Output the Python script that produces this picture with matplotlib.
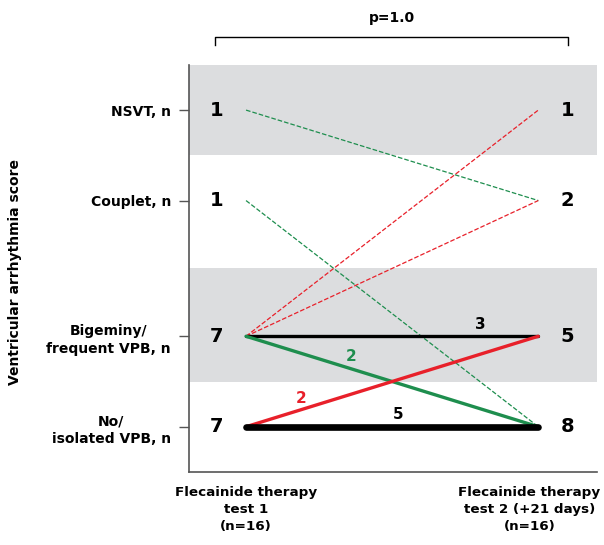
import matplotlib
matplotlib.use('Agg')
import matplotlib.pyplot as plt

plt.rcParams['font.family'] = ['DejaVu Sans']
plt.rcParams['font.weight'] = 'bold'

# categories and their vertical positions (uneven spacing as in the original)
categories = ['No/\nisolated VPB, n', 'Bigeminy/\nfrequent VPB, n', 'Couplet, n', 'NSVT, n']
levels = [1, 2, 3.5, 4.5]
counts_test1 = [7, 7, 1, 1]
counts_test2 = [8, 5, 2, 1]

# transitions: (from level index, to level index, n, colour, style, width)
transitions = [
    (3, 2, 1, '#1e8e4e', '--', 0.9),
    (2, 0, 1, '#1e8e4e', '--', 0.9),
    (1, 3, 1, '#e8202a', '--', 0.9),
    (1, 2, 1, '#e8202a', '--', 0.9),
    (1, 1, 3, 'black', '-', 2.4),
    (1, 0, 2, '#1e8e4e', '-', 2.4),
    (0, 1, 2, '#e8202a', '-', 2.4),
    (0, 0, 5, 'black', '-', 4.8),
]
# label positions for the multi-patient lines
line_labels = {4: (0.80, 2.13), 5: (0.36, 1.78), 6: (0.19, 1.31), 7: (0.52, 1.13)}

bands = [(4.0, 5.0), (1.5, 2.75)]
group_labels = ['Flecainide therapy\ntest 1\n(n=16)',
                'Flecainide therapy\ntest 2 (+21 days)\n(n=16)']
group_x = [0, 0.97]

fig = plt.figure(figsize=(6.04, 5.45), dpi=100)
ax = fig.add_axes([0.313, 0.134, 0.675, 0.747])

for lo, hi in bands:
    ax.axhspan(lo, hi, color='#dcdddf', lw=0, zorder=0)

for i, (a, b, n, col, ls, lw) in enumerate(transitions):
    ax.plot([0, 1], [levels[a], levels[b]], color=col, ls=ls, lw=lw,
            solid_capstyle='round', zorder=2)
    if i in line_labels:
        tx, ty = line_labels[i]
        ax.text(tx, ty, str(n), color=col, fontsize=11, fontweight='bold',
                ha='center', va='center')

for y, c1, c2 in zip(levels, counts_test1, counts_test2):
    ax.text(-0.1, y, str(c1), fontsize=14, fontweight='bold', ha='center', va='center')
    ax.text(1.1, y, str(c2), fontsize=14, fontweight='bold', ha='center', va='center')

ax.set_xlim(-0.195, 1.2)
ax.set_ylim(0.5, 5.0)
ax.set_yticks(levels)
ax.set_yticklabels(categories, fontsize=10, fontweight='bold', multialignment='center',
                   linespacing=1.35)
ax.tick_params(axis='y', length=7, width=1, pad=6, color='#555555')
ax.set_xticks([])
for s in ['top', 'right']:
    ax.spines[s].set_visible(False)
for s in ['left', 'bottom']:
    ax.spines[s].set_color('#555555')
    ax.spines[s].set_linewidth(1.2)

ax.set_ylabel('Ventricular arrhythmia score', fontsize=10, fontweight='bold')
ax.yaxis.set_label_coords(-0.41, 0.49)

for x, lab in zip(group_x, group_labels):
    ax.text(x, 0.35, lab, fontsize=9.7, fontweight='bold', ha='center', va='top',
            linespacing=1.4)

# significance bracket
ax.plot([-0.106, -0.106, 1.1, 1.1], [5.22, 5.31, 5.31, 5.22], color='black',
        lw=1, clip_on=False)
ax.text(0.5, 5.52, 'p=1.0', fontsize=10, fontweight='bold', ha='center', va='center')

fig.savefig('out.png', dpi=100)
